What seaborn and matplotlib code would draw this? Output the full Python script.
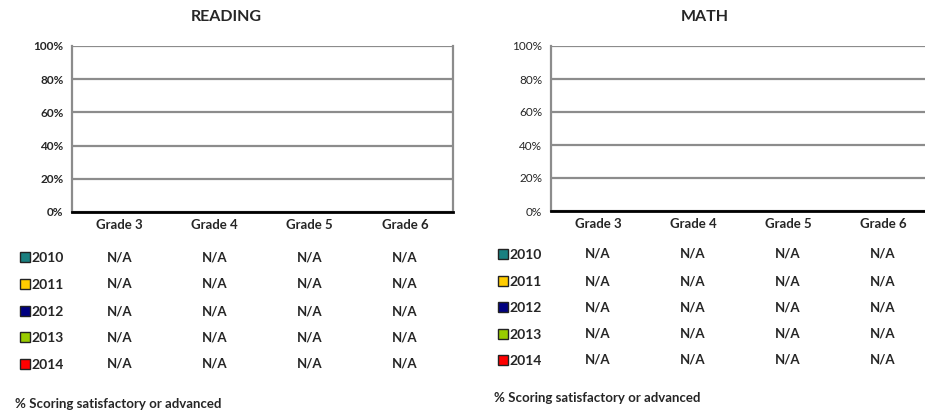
import numpy as np
import pandas as pd
import matplotlib
matplotlib.use("Agg")
import matplotlib.pyplot as plt
import matplotlib.transforms as mtransforms
from matplotlib.patches import Rectangle
import seaborn as sns

# data (all scores unavailable -> N/A)
grades = ["Grade 3", "Grade 4", "Grade 5", "Grade 6"]
years = ["2010", "2011", "2012", "2013", "2014"]
year_colors = ["#1a8080", "#ffcc00", "#000080", "#99cc00", "#ff0000"]
reading_2010 = [np.nan, np.nan, np.nan, np.nan]
reading_2011 = [np.nan, np.nan, np.nan, np.nan]
reading_2012 = [np.nan, np.nan, np.nan, np.nan]
reading_2013 = [np.nan, np.nan, np.nan, np.nan]
reading_2014 = [np.nan, np.nan, np.nan, np.nan]
math_2010 = [np.nan, np.nan, np.nan, np.nan]
math_2011 = [np.nan, np.nan, np.nan, np.nan]
math_2012 = [np.nan, np.nan, np.nan, np.nan]
math_2013 = [np.nan, np.nan, np.nan, np.nan]
math_2014 = [np.nan, np.nan, np.nan, np.nan]
yticks = [0, 20, 40, 60, 80, 100]
ytick_labels = ["0%", "20%", "40%", "60%", "80%", "100%"]

reading = [reading_2010, reading_2011, reading_2012, reading_2013, reading_2014]
math = [math_2010, math_2011, math_2012, math_2013, math_2014]

sns.set_style("white")
plt.rcParams['font.family'] = ['Lato', 'DejaVu Sans']

W, H = 925, 412
fig = plt.figure(figsize=(W / 100, H / 100), dpi=100)


def to_df(series):
    rows = []
    for y, vals in zip(years, series):
        for g, v in zip(grades, vals):
            rows.append({"grade": g, "year": y, "pct": v})
    return pd.DataFrame(rows)


def panel(rect, title, series, bold_ticks, title_x, rows_y, sq_x, foot_x, foot_y):
    ax = fig.add_axes(rect)
    df = to_df(series)
    sns.barplot(data=df, x="grade", y="pct", hue="year", order=grades,
                hue_order=years, palette=year_colors, ax=ax, legend=False)
    ax.set_xlim(-0.5, len(grades) - 0.5)
    ax.set_ylim(0, 100)
    ax.set_yticks(yticks)
    ax.set_yticklabels(ytick_labels, fontsize=8.5,
                       fontweight="bold" if bold_ticks else "normal")
    ax.set_xticks(range(len(grades)))
    ax.set_xticklabels(grades, fontsize=9.5, fontweight="bold")
    ax.tick_params(axis="x", length=0, pad=5)
    ax.tick_params(axis="y", length=4, color="#808080", width=1.2, pad=2)
    ax.set_xlabel("")
    ax.set_ylabel("")
    ax.yaxis.grid(True, color="#8c8c8c", linewidth=1.6)
    ax.set_axisbelow(True)
    for s in ["left", "right", "top"]:
        ax.spines[s].set_color("#8c8c8c")
        ax.spines[s].set_linewidth(1.6)
    ax.spines["top"].set_visible(False)
    ax.spines["bottom"].set_color("black")
    ax.spines["bottom"].set_linewidth(2)

    fig.text(title_x / W, 1 - 17 / H, title, ha="center", va="center",
             fontsize=11.5, fontweight="bold")

    tr = mtransforms.blended_transform_factory(ax.transData, fig.transFigure)
    for i, (y, col, vals) in enumerate(zip(years, year_colors, series)):
        yy = 1 - rows_y[i] / H
        fig.patches.append(Rectangle((sq_x / W, yy - 4.5 / H), 10 / W, 10 / H,
                                     facecolor=col, edgecolor="#222222",
                                     linewidth=1, transform=fig.transFigure))
        fig.text((sq_x + 11) / W, yy - 1 / H, y, ha="left", va="center",
                 fontsize=10, fontweight="bold")
        for j, v in enumerate(vals):
            label = "N/A" if np.isnan(v) else f"{v:.0f}%"
            ax.text(j, yy, label, transform=tr, ha="center", va="center",
                    fontsize=9.5, fontweight="bold")

    fig.text(foot_x / W, 1 - foot_y / H, "% Scoring satisfactory or advanced",
             ha="left", va="center", fontsize=9.5, fontweight="bold")
    return ax


panel([72 / W, 200 / H, 380.5 / W, 166 / H], "READING", reading, True, 226,
      [257, 284, 311, 337, 364], 20, 15, 404)
panel([550.5 / W, 201 / H, 380 / W, 165 / H], "MATH", math, False, 705,
      [254, 281, 307, 334, 360], 498, 494, 398)

fig.savefig("out.png", dpi=100)
